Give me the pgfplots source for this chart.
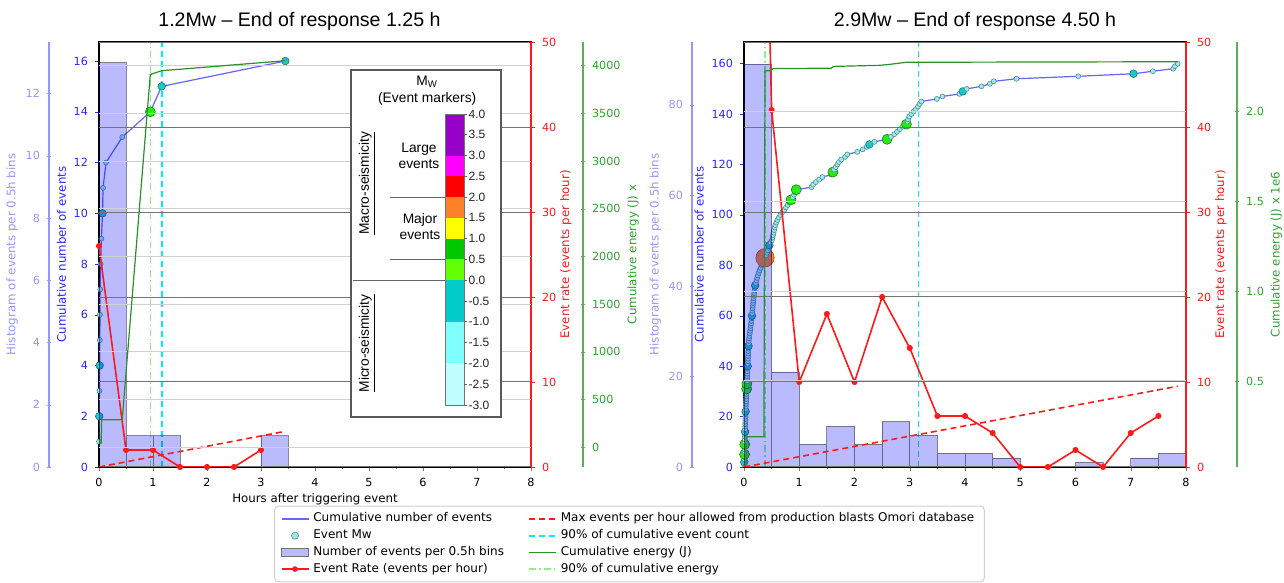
\documentclass[border=0pt]{standalone}
\usepackage{fontspec}
\setmainfont{DejaVu Sans}
\newfontfamily\arial{Liberation Sans}
\usepackage{pgfplots}
\usepackage{pgfplotstable}
\pgfplotsset{compat=1.18}

\newcommand\tkf{\fontsize{5.6}{6.6}\selectfont}
\newcommand\lbf{\fontsize{5.9}{7}\selectfont}
\newcommand\lgf{\fontsize{6}{7.2}\selectfont}
\newcommand\cbf{\arial\fontsize{6}{7}\selectfont}
\newcommand\cbt{\arial\fontsize{6.9}{8}\selectfont}

\definecolor{cumb}{RGB}{40,40,255}
\definecolor{cumline}{RGB}{100,100,255}
\definecolor{histc}{RGB}{150,150,255}
\definecolor{rateR}{RGB}{255,25,25}
\definecolor{enG}{RGB}{40,145,40}
\definecolor{enT}{RGB}{50,160,50}
\definecolor{enS}{RGB}{90,175,90}
\definecolor{lgreen}{RGB}{144,238,144}
\definecolor{cyanL}{RGB}{0,235,255}
\definecolor{mS}{RGB}{150,235,235}
\definecolor{mSe}{RGB}{95,140,140}
\definecolor{mC}{RGB}{30,200,200}
\definecolor{mCe}{RGB}{20,120,120}
\definecolor{mG}{RGB}{40,235,20}
\definecolor{mGe}{RGB}{20,130,20}
\definecolor{mO}{RGB}{240,130,40}
\definecolor{mOe}{RGB}{170,90,30}
\definecolor{cbPur}{RGB}{150,0,200}
\definecolor{cbMag}{RGB}{255,0,255}
\definecolor{cbRed}{RGB}{255,0,0}
\definecolor{cbOra}{RGB}{255,128,40}
\definecolor{cbYel}{RGB}{255,255,0}
\definecolor{cbGrn}{RGB}{0,200,0}
\definecolor{cbLim}{RGB}{100,255,0}
\definecolor{cbTea}{RGB}{0,204,204}
\definecolor{cbLc}{RGB}{128,255,255}
\definecolor{cbVlc}{RGB}{192,255,255}

\pgfplotstableread{
t n c
0.000 1 s
0.005 2 c
0.008 3 s
0.012 4 c
0.015 5 s
0.018 6 s
0.022 7 s
0.030 8 s
0.045 9 s
0.065 10 c
0.075 11 s
0.130 12 s
0.430 13 s
0.950 14 g
1.160 15 c
3.450 16 c
}\cumL

\pgfplotstableread{
t n c
0.002 1 s
0.004 2 c
0.006 3 s
0.008 4 s
0.010 5 g
0.011 6 s
0.012 7 s
0.013 8 s
0.014 9 g
0.015 10 s
0.016 11 s
0.017 12 s
0.018 13 s
0.019 14 c
0.020 15 s
0.021 16 s
0.022 17 s
0.023 18 s
0.024 19 s
0.025 20 s
0.027 21 s
0.029 22 c
0.031 23 s
0.033 24 s
0.035 25 s
0.037 26 s
0.039 27 s
0.041 28 s
0.043 29 s
0.045 30 s
0.048 31 g
0.050 32 s
0.052 33 g
0.054 34 s
0.056 35 s
0.058 36 s
0.060 37 s
0.062 38 s
0.064 39 s
0.066 40 c
0.068 41 s
0.070 42 s
0.072 43 s
0.074 44 s
0.076 45 s
0.078 46 s
0.080 47 s
0.082 48 c
0.084 49 s
0.086 50 s
0.092 51 s
0.098 52 s
0.104 53 s
0.110 54 s
0.116 55 s
0.122 56 s
0.128 57 s
0.134 58 s
0.140 59 s
0.144 60 c
0.148 61 s
0.152 62 s
0.156 63 s
0.160 64 s
0.164 65 s
0.168 66 s
0.172 67 s
0.178 68 s
0.184 69 s
0.190 70 s
0.196 71 s
0.202 72 c
0.214 73 s
0.226 74 s
0.238 75 s
0.250 76 s
0.266 77 s
0.282 78 s
0.300 79 s
0.320 80 s
0.340 81 s
0.360 82 s
0.380 83 o
0.400 84 s
0.415 85 s
0.430 86 s
0.445 87 s
0.460 88 c
0.480 89 s
0.505 90 s
0.515 91 s
0.525 92 s
0.535 93 s
0.545 94 s
0.555 95 s
0.565 96 s
0.585 97 s
0.605 98 s
0.630 99 s
0.660 100 s
0.690 101 s
0.730 102 s
0.760 103 s
0.790 104 s
0.815 105 s
0.850 106 g
0.880 107 s
0.905 108 s
0.925 109 s
0.945 110 g
1.220 111 s
1.250 112 s
1.300 113 s
1.360 114 s
1.420 115 s
1.580 116 s
1.610 117 g
1.630 118 s
1.660 119 s
1.690 120 s
1.720 121 s
1.760 122 s
1.830 123 s
1.870 124 s
2.050 125 s
2.150 126 s
2.220 127 s
2.270 128 c
2.360 129 s
2.590 130 g
2.660 131 s
2.720 132 s
2.770 133 s
2.820 134 s
2.870 135 s
2.940 136 g
2.960 137 s
2.970 138 s
2.990 139 s
3.030 140 s
3.070 141 s
3.110 142 s
3.150 143 s
3.180 144 s
3.210 145 s
3.490 146 s
3.590 147 s
3.900 148 s
3.960 149 c
4.030 150 s
4.300 151 s
4.450 152 s
4.520 153 s
4.930 154 s
6.050 155 s
7.050 156 c
7.400 157 s
7.770 158 s
7.800 159 s
7.850 160 s
}\cumR

\pgfplotsset{
  every axis/.append style={scale only axis, /pgf/number format/assume math mode=true,
    /pgf/number format/1000 sep={},
    tick label style={font=\tkf}, label style={font=\lbf}, major tick length=2pt,
    minor tick length=1.2pt, tick align=outside, scaled ticks=false},
  mwscatter/.style={only marks, scatter, scatter src=explicit symbolic,
    scatter/classes={
      s={mark=*, mark size=1.25pt, draw=mSe, fill=mS, line width=0.3pt},
      c={mark=*, mark size=1.9pt, draw=mCe, fill=mC, line width=0.3pt},
      g={mark=*, mark size=2.5pt, draw=mGe, fill=mG, line width=0.3pt},
      o={mark=*, mark size=4.6pt, draw=mOe, fill=mO, line width=0.3pt}}},
  mainax/.style={anchor=south west, height=212.5pt, xmin=0, xmax=8,
    xtick={0,...,8}, minor x tick num=1, xtick pos=bottom, ytick pos=left,
    ytick style={draw=cumb}, yticklabel style={text=cumb},
    ylabel style={text=cumb, font=\lbf}, ylabel shift=-3pt, xlabel shift=-3.5pt,
    axis line style={line width=0.6pt}},
  histax/.style={anchor=south west, height=212.5pt, xmin=0, xmax=8, hide axis},
  histspine/.style={anchor=south west, width=1pt, height=212.5pt, xmin=0, xmax=1,
    axis x line=none, axis y line=left, y axis line style={draw=histc, line width=0.6pt, -},
    ytick style={draw=histc}, yticklabel style={text=histc},
    ylabel style={text=histc, font=\lbf}, ylabel shift=-3pt},
  rateax/.style={anchor=south west, height=212.5pt, xmin=0, xmax=8, ymin=0, ymax=50,
    axis x line=none, axis y line*=right, ytick={0,10,...,50},
    y axis line style={draw=rateR, line width=0.6pt, -}, ytick style={draw=rateR},
    yticklabel style={text=rateR}, ylabel style={text=rateR, font=\lbf}, ylabel shift=-5pt,
    ylabel={Event rate (events per hour)},
    ymajorgrids, major grid style={black!55, line width=0.5pt}},
  engrid/.style={anchor=south west, height=212.5pt, xmin=0, xmax=8,
    axis x line=none, axis y line*=right, y axis line style={draw=none},
    ytick style={draw=none}, yticklabels={},
    ymajorgrids, major grid style={black!18, line width=0.5pt}},
  enspine/.style={anchor=south east, width=1pt, height=212.5pt, xmin=0, xmax=1,
    axis x line=none, axis y line=right, y axis line style={draw=enS, line width=0.6pt, -},
    ytick style={draw=enS}, yticklabel style={text=enT},
    ylabel style={text=enT, font=\lbf}, ylabel shift=-3.5pt},
  barsty/.style={ybar interval, fill=blue, fill opacity=0.27, draw=black, draw opacity=0.45, line width=0.4pt},
  barlegend/.style={legend image code/.code={\draw[sharp corners, ##1] (0pt,-1.9pt) rectangle (13.5pt,1.9pt);}},
}

\begin{document}
\begin{tikzpicture}
\useasboundingbox (0,0) rectangle (642pt,291.5pt);

% ================= LEFT PANEL =================
\begin{axis}[mainax, at={(49.5pt,58pt)}, width=216pt, ymin=0, ymax=16.75,
  ytick={0,2,...,16}, ylabel={Cumulative number of events},
  xlabel={Hours after triggering event}]
\addplot[cumline, line width=0.6pt, no marks] table[x=t, y=n] {\cumL};
\addplot[mwscatter] table[x=t, y=n, meta=c] {\cumL};
\addplot[color=cyanL, line width=0.9pt, dash pattern=on 3pt off 2pt, no marks] coordinates {(1.16,0) (1.16,16.75)};
\addplot[color=lgreen, line width=0.8pt, dash pattern=on 3.5pt off 1.5pt on 0.8pt off 1.5pt, no marks] coordinates {(0.95,0) (0.95,16.75)};
\end{axis}

\begin{axis}[histax, at={(49.5pt,58pt)}, width=216pt, ymin=0, ymax=13.66]
\addplot[barsty] coordinates {(0,13) (0.5,1) (1,1) (1.5,0) (2,0) (2.5,0) (3,1) (3.5,0)};
\end{axis}

\begin{axis}[histspine, at={(24.5pt,58pt)}, ymin=0, ymax=13.66, ytick={0,2,...,12},
  ylabel={Histogram of events per 0.5h bins}]
\addplot[draw=none, mark=none] coordinates {(0.5,1)};
\end{axis}

\begin{axis}[rateax, at={(49.5pt,58pt)}, width=216pt]
\addplot[rateR, line width=0.8pt, mark=*, mark size=1.1pt] coordinates {(0,26) (0.5,2) (1,2) (1.5,0) (2,0) (2.5,0) (3,2)};
\addplot[rateR, line width=0.8pt, dash pattern=on 3pt off 2pt, no marks] coordinates {(0,0) (3.45,4.2)};
\end{axis}

\begin{axis}[engrid, at={(49.5pt,58pt)}, width=216pt, ymin=-206, ymax=4248, ytick={0,500,...,4000}]
\addplot[enG, line width=0.6pt, no marks] coordinates {(0,45) (0.04,45) (0.05,290) (0.43,290) (0.95,3908) (1.16,3947) (3.45,4052)};
\end{axis}

\begin{axis}[enspine, at={(291.5pt,58pt)}, ymin=-206, ymax=4248, ytick={0,500,...,4000},
  ylabel={Cumulative energy (J) x}]
\addplot[draw=none, mark=none] coordinates {(0.5,1000)};
\end{axis}

% ================= RIGHT PANEL =================
\begin{axis}[mainax, at={(372pt,58pt)}, width=221pt, ymin=0, ymax=168.6,
  ytick={0,20,...,160}, ylabel={Cumulative number of events}]
\addplot[cumline, line width=0.6pt, no marks] table[x=t, y=n] {\cumR};
\addplot[mwscatter] table[x=t, y=n, meta=c] {\cumR};
\addplot[color=cyanL, line width=0.9pt, dash pattern=on 3pt off 2pt, no marks] coordinates {(3.16,0) (3.16,168.6)};
\addplot[color=lgreen, line width=0.8pt, dash pattern=on 3.5pt off 1.5pt on 0.8pt off 1.5pt, no marks] coordinates {(0.38,0) (0.38,168.6)};
\end{axis}

\begin{axis}[histax, at={(372pt,58pt)}, width=221pt, ymin=0, ymax=93.9]
\addplot[barsty] coordinates {(0,89) (0.5,21) (1,5) (1.5,9) (2,5) (2.5,10) (3,7) (3.5,3) (4,3) (4.5,2) (5,0) (5.5,0) (6,1) (6.5,0) (7,2) (7.5,3) (8,0)};
\end{axis}

\begin{axis}[histspine, at={(346pt,58pt)}, ymin=0, ymax=93.9, ytick={0,20,...,80},
  ylabel={Histogram of events per 0.5h bins}]
\addplot[draw=none, mark=none] coordinates {(0.5,1)};
\end{axis}

\begin{axis}[rateax, at={(372pt,58pt)}, width=221pt]
\addplot[rateR, line width=0.8pt, mark=*, mark size=1.1pt] coordinates {(0,178) (0.5,42) (1,10) (1.5,18) (2,10) (2.5,20) (3,14) (3.5,6) (4,6) (4.5,4) (5,0) (5.5,0) (6,2) (6.5,0) (7,4) (7.5,6)};
\addplot[rateR, line width=0.8pt, dash pattern=on 3pt off 2pt, no marks] coordinates {(0,0) (7.85,9.5)};
\end{axis}

\begin{axis}[engrid, at={(372pt,58pt)}, width=221pt, ymin=0.021, ymax=2.388, ytick={0.5,1,1.5,2}]
\addplot[enG, line width=0.6pt, no marks] coordinates {(0,0.03) (0.035,0.03) (0.036,0.19) (0.36,0.19) (0.38,2.228) (0.47,2.228) (0.53,2.24) (1.58,2.242) (1.62,2.252) (2.45,2.258) (2.6,2.262) (2.94,2.275) (7.85,2.278)};
\end{axis}

\begin{axis}[enspine, at={(618.5pt,58pt)}, ymin=0.021, ymax=2.388, ytick={0.5,1,1.5,2},
  yticklabel style={/pgf/number format/.cd, fixed, fixed zerofill, precision=1},
  ylabel={Cumulative energy (J) x 1e6}]
\addplot[draw=none, mark=none] coordinates {(0.5,1)};
\end{axis}

% ================= TITLES =================
\node[font=\arial\fontsize{9.8}{11}\selectfont, anchor=base] at (149.75pt,278.2pt) {1.2Mw – End of response 1.25 h};
\node[font=\arial\fontsize{9.8}{11}\selectfont, anchor=base] at (487.5pt,278.2pt) {2.9Mw – End of response 4.50 h};

% ================= Mw KEY (left panel) =================
\draw[black!65, fill=white, line width=0.6pt] (175.5pt,83pt) rectangle (250.5pt,256.5pt);
\fill[cbPur] (222.5pt,213.71pt) rectangle (232pt,234.5pt);
\fill[cbMag] (222.5pt,203.32pt) rectangle (232pt,213.71pt);
\fill[cbRed] (222.5pt,192.93pt) rectangle (232pt,203.32pt);
\fill[cbOra] (222.5pt,182.54pt) rectangle (232pt,192.93pt);
\fill[cbYel] (222.5pt,172.14pt) rectangle (232pt,182.54pt);
\fill[cbGrn] (222.5pt,161.75pt) rectangle (232pt,172.14pt);
\fill[cbLim] (222.5pt,151.36pt) rectangle (232pt,161.75pt);
\fill[cbTea] (222.5pt,130.57pt) rectangle (232pt,151.36pt);
\fill[cbLc] (222.5pt,109.79pt) rectangle (232pt,130.57pt);
\fill[cbVlc] (222.5pt,89pt) rectangle (232pt,109.79pt);
\draw[black!55, line width=0.4pt] (222.5pt,89pt) rectangle (232pt,234.5pt);
\foreach \m/\lab in {4/4.0,3.5/3.5,3/3.0,2.5/2.5,2/2.0,1.5/1.5,1/1.0,0.5/0.5,0/0.0,-0.5/-0.5,-1/-1.0,-1.5/-1.5,-2/-2.0,-2.5/-2.5,-3/-3.0}{
  \pgfmathsetmacro\yy{89+(\m+3)*20.7857}
  \draw[black!60, line width=0.4pt] (232pt,\yy pt) -- (233.5pt,\yy pt) node[right, inner sep=0.6pt, font=\cbf, text=black!85] {\lab};
}
\draw[black!60, line width=0.5pt] (195pt,192.93pt) -- (222.5pt,192.93pt);
\draw[black!60, line width=0.5pt] (195pt,161.75pt) -- (222.5pt,161.75pt);
\draw[black!60, line width=0.5pt] (176.5pt,151.36pt) -- (222.5pt,151.36pt);
\node[font=\cbt, anchor=base] at (213.6pt,248.5pt) {M\textsubscript{W}};
\node[font=\cbt, anchor=base] at (213.6pt,240.2pt) {(Event markers)};
\node[font=\cbt, align=center] at (209.5pt,213.8pt) {Large\\events};
\node[font=\cbt, align=center] at (210pt,178.1pt) {Major\\events};
\node[font=\cbt, rotate=90] at (183.6pt,199.8pt) {\underline{Macro-seismicity}};
\node[font=\cbt, rotate=90] at (183.6pt,119.8pt) {\underline{Micro-seismicity}};

% ================= LEGEND =================
\begin{axis}[hide axis, at={(314.75pt,19.5pt)}, anchor=center, width=10pt, height=10pt,
  xmin=0, xmax=1, ymin=0, ymax=1, legend columns=2, legend cell align=left,
  legend image code/.code={\draw[mark repeat=2,mark phase=2,#1] plot coordinates {(0pt,0pt) (6.75pt,0pt) (13.5pt,0pt)};},
  legend style={at={(0.5,0.5)}, anchor=center, draw=black!18, line width=0.5pt,
    rounded corners=2pt, font=\lgf, inner xsep=3pt, inner ysep=2.7pt, row sep=0.9pt,
    nodes={inner ysep=0.7pt},
    /tikz/every even column/.append style={column sep=10pt}}]
\addlegendimage{cumline, line width=0.6pt}
\addlegendentry{Cumulative number of events}
\addlegendimage{rateR, line width=0.8pt, dash pattern=on 3pt off 2pt}
\addlegendentry{Max events per hour allowed from production blasts Omori database}
\addlegendimage{only marks, mark=*, mark size=1.8pt, mark options={fill=mS, draw=mSe, line width=0.3pt}}
\addlegendentry{Event Mw}
\addlegendimage{color=cyanL, line width=0.9pt, dash pattern=on 3pt off 2pt}
\addlegendentry{90\% of cumulative event count}
\addlegendimage{fill=blue, fill opacity=0.27, draw=black!55, barlegend}
\addlegendentry{Number of events per 0.5h bins}
\addlegendimage{enG, line width=0.6pt}
\addlegendentry{Cumulative energy (J)}
\addlegendimage{rateR, line width=0.8pt, mark=*, mark size=1pt}
\addlegendentry{Event Rate (events per hour)}
\addlegendimage{color=lgreen, line width=0.8pt, dash pattern=on 3.5pt off 1.5pt on 0.8pt off 1.5pt}
\addlegendentry{90\% of cumulative energy}
\end{axis}
\end{tikzpicture}
\end{document}
